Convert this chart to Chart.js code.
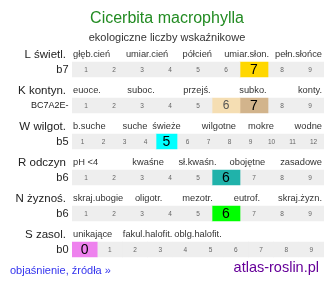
<!DOCTYPE html>
<html>
<head>
<meta charset="utf-8">
<script src="https://cdn.jsdelivr.net/npm/chart.js@4.4.6/dist/chart.umd.min.js"></script>
<style>
  html, body { margin: 0; padding: 0; background: #fff; }
  canvas { display: block; }
</style>
</head>
<body>
<canvas id="grafica" width="334" height="286"></canvas>
<script>
const tytul = "Cicerbita macrophylla";
const podtytul = "ekologiczne liczby wskaźnikowe";
const wiersze = ["L świetl.", "K kontyn.", "W wilgot.", "R odczyn", "N żyznoś.", "S zasol."];
const kody = ["b7", "BC7A2E-", "b5", "b6", "b6", "b0"];
const skalaOd = [1, 1, 1, 1, 1, 0];
const skalaDo = [9, 9, 12, 9, 9, 9];
const wartosci = [[7], [6, 7], [5], [6], [6], [0]];
const opisy = [
    ["głęb.cień", "umiar.cień", "półcień", "umiar.słon.", "pełn.słońce"],
    ["euoce.", "suboc.", "przejś.", "subko.", "konty."],
    ["b.suche", "suche", "świeże", "wilgotne", "mokre", "wodne"],
    ["pH <4", "kwaśne", "sł.kwaśn.", "obojętne", "zasadowe"],
    ["skraj.ubogie", "oligotr.", "mezotr.", "eutrof.", "skraj.żyzn."],
    ["unikające", "fakul.halofit.", "oblg.halofit."]
];
const stopka = "objaśnienie, źródła »";
const strona = "atlas-roslin.pl";

// kolory podswietlonych komorek
const koloryWartosci = [["#FFD700"], ["#F5DEB3", "#D2B48C"], ["#00FFFF"], ["#20B2AA"], ["#00FF00"], ["#EE82EE"]];
// polozenie opisow nad paskiem (ulamek szerokosci), 'L' = do lewej, 'P' = do prawej
const kotwice = [
    ["L", 0.298, 0.497, 0.693, "P"],
    ["L", 0.274, 0.496, 0.718, "P"],
    ["L", 0.25, 0.375, 0.583, 0.75, "P"],
    ["L", 0.302, 0.498, 0.696, "P"],
    ["L", 0.304, 0.498, 0.694, "P"],
    ["L", 0.3, 0.5]
];

const FONT = '"Liberation Sans", Arial, sans-serif';
const liczbaKomorek = skalaOd.map((od, i) => skalaDo[i] - od + 1);
const maxKomorek = Math.max(...liczbaKomorek);

const zbiory = [];
for (let j = 0; j < maxKomorek; j++) {
    zbiory.push({
        data: wiersze.map((w, r) => j < liczbaKomorek[r] ? 1 / liczbaKomorek[r] : null),
        backgroundColor: wiersze.map((w, r) => {
            const k = wartosci[r].indexOf(skalaOd[r] + j);
            return k >= 0 ? koloryWartosci[r][k] : "#EEEEEE";
        }),
        borderWidth: 0,
        barThickness: 15
    });
}

const napisy = {
    id: "napisy",
    afterDatasetsDraw(chart) {
        const ctx = chart.ctx;
        const sx = chart.scales.x, sy = chart.scales.y;
        ctx.save();
        ctx.textBaseline = "middle";

        ctx.textAlign = "center";
        ctx.fillStyle = "#228B22";
        ctx.font = "16px " + FONT;
        ctx.fillText(tytul, 167, 19);
        ctx.fillStyle = "#333";
        ctx.font = "11px " + FONT;
        ctx.fillText(podtytul, 167, 38);

        wiersze.forEach((nazwa, r) => {
            const yc = sy.getPixelForValue(r);
            const yOpis = yc - 15;

            ctx.textAlign = "right";
            ctx.fillStyle = "#222";
            ctx.font = "11.5px " + FONT;
            ctx.fillText(nazwa, 66, yOpis);
            ctx.font = (kody[r].length > 3 ? "9px " : "11px ") + FONT;
            ctx.fillText(kody[r], 68.5, yc);

            ctx.font = "9.3px " + FONT;
            ctx.fillStyle = "#333";
            opisy[r].forEach((t, i) => {
                const a = kotwice[r][i];
                if (a === "L") {
                    ctx.textAlign = "left";
                    ctx.fillText(t, sx.getPixelForValue(0) + 1, yOpis);
                } else if (a === "P") {
                    ctx.textAlign = "right";
                    ctx.fillText(t, sx.getPixelForValue(1) - 2, yOpis);
                } else {
                    ctx.textAlign = "center";
                    ctx.fillText(t, sx.getPixelForValue(a), yOpis);
                }
            });

            ctx.textAlign = "center";
            for (let j = 0; j < liczbaKomorek[r]; j++) {
                const el = chart.getDatasetMeta(j).data[r];
                const cx = (el.x + el.base) / 2;
                const v = skalaOd[r] + j;
                const k = wartosci[r].indexOf(v);
                if (k < 0) {
                    ctx.fillStyle = "#666";
                    ctx.font = "6.5px " + FONT;
                } else if (k < wartosci[r].length - 1) {
                    ctx.fillStyle = "#555";
                    ctx.font = "12px " + FONT;
                } else {
                    ctx.fillStyle = "#000";
                    ctx.font = "14px " + FONT;
                }
                ctx.fillText(String(v), cx, yc + 0.5);
            }
        });

        ctx.textAlign = "left";
        ctx.fillStyle = "#3333EE";
        ctx.font = "11px " + FONT;
        ctx.fillText(stopka, 10, 271);
        ctx.textAlign = "right";
        ctx.fillStyle = "#660099";
        ctx.font = "14.5px " + FONT;
        ctx.fillText(strona, 319, 268);
        ctx.restore();
    }
};

new Chart(document.getElementById("grafica"), {
    type: "bar",
    data: { labels: wiersze, datasets: zbiory },
    options: {
        indexAxis: "y",
        responsive: false,
        animation: false,
        layout: { padding: { left: 72, right: 10, top: 51.5, bottom: 18.5 } },
        scales: {
            x: { stacked: true, min: 0, max: 1, display: false },
            y: { stacked: true, display: false }
        },
        plugins: { legend: { display: false }, tooltip: { enabled: false } }
    },
    plugins: [napisy]
});
</script>
</body>
</html>
